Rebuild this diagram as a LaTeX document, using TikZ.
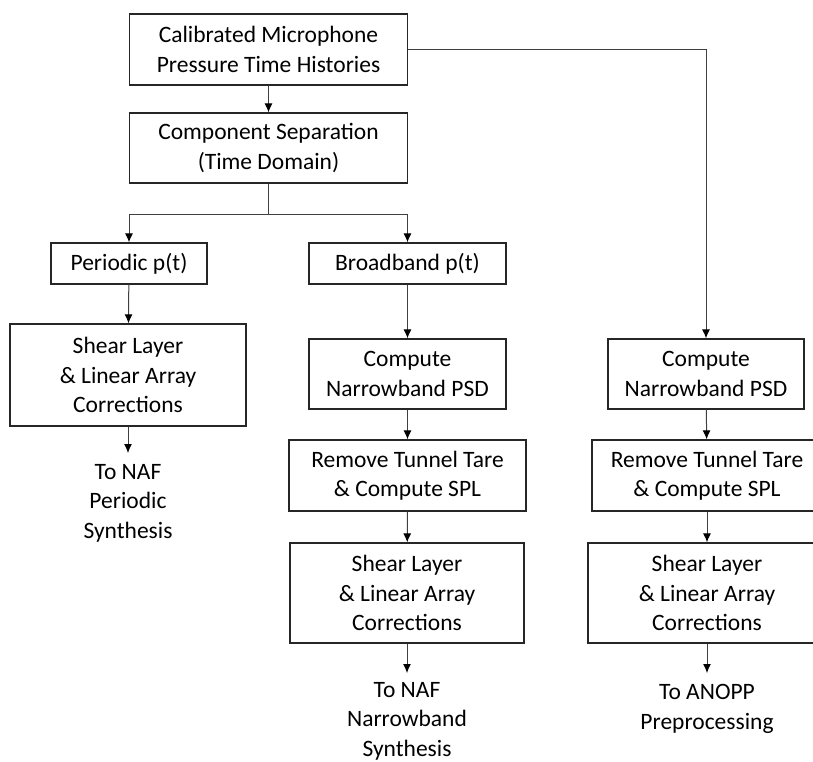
\documentclass[tikz,border=0pt]{standalone}
\usepackage{fontspec}
\setmainfont{Carlito}
\usetikzlibrary{arrows.meta}
\tikzset{
  baseline = (current bounding box.center),
}
\begin{document}
\begin{tikzpicture}[
    x=1pt,y=-1pt,
    box/.style={draw=black!85,line width=1.3pt,align=center,inner sep=0pt,
      font=\fontsize{23.5}{29.5}\selectfont},
    lab/.style={align=center,inner sep=0pt,font=\fontsize{23.5}{29.5}\selectfont},
    link/.style={draw=black!75,line width=1pt},
    flow/.style={link,-{Latex[length=9pt,width=8pt,color=black]}}
    ]
    \clip (0,0) rectangle (813,762);
    % top of the chain
    \node[box,minimum width=278pt,minimum height=71pt] (cal) at (268.5,49.5) {Calibrated Microphone\\Pressure Time Histories};
    \node[box,minimum width=278pt,minimum height=70pt] (sep) at (268.5,148) {Component Separation\\(Time Domain)};
    \coordinate (split) at (268.5,214);
    % left column
    \node[box,minimum width=156pt,minimum height=41pt] (per) at (129,263.5) {Periodic p(t)};
    \node[box,minimum width=236pt,minimum height=102pt] (shL) at (128,375) {Shear Layer\\\& Linear Array\\Corrections};
    \coordinate (endL) at (128,453);
    \node[lab] (toL) at (128,503) {To NAF\\Periodic\\Synthesis};
    % middle column
    \node[box,minimum width=197pt,minimum height=41pt] (bb) at (407.5,263.5) {Broadband p(t)};
    \node[box,minimum width=197pt,minimum height=70pt] (psdM) at (407.5,374) {Compute\\Narrowband PSD};
    \node[box,minimum width=237pt,minimum height=71pt] (tareM) at (407.5,475.5) {Remove Tunnel Tare\\\& Compute SPL};
    \node[box,minimum width=234pt,minimum height=100pt] (shM) at (407,593) {Shear Layer\\\& Linear Array\\Corrections};
    \coordinate (endM) at (407,673);
    \node[lab] (toM) at (407,721) {To NAF\\Narrowband\\Synthesis};
    % right column
    \node[box,minimum width=196pt,minimum height=70pt] (psdR) at (706,374) {Compute\\Narrowband PSD};
    \node[box,minimum width=230pt,minimum height=71pt] (tareR) at (707,475.5) {Remove Tunnel Tare\\\& Compute SPL};
    \node[box,minimum width=238pt,minimum height=100pt] (shR) at (707,593) {Shear Layer\\\& Linear Array\\Corrections};
    \coordinate (endR) at (707,673);
    \node[lab] (toR) at (707,709) {To ANOPP\\Preprocessing};
    % connectors
    \draw[flow] (cal) -- (sep);
    \draw[link] (sep) -- (split);
    \draw[flow] (split) -| (per);
    \draw[flow] (split) -| (bb);
    \draw[flow] (cal) -| (psdR);
    \draw[flow] (per) -- (shL);
    \draw[flow] (shL) -- (endL);
    \draw[flow] (bb) -- (psdM);
    \draw[flow] (psdM) -- (tareM);
    \draw[flow] (tareM) -- (shM);
    \draw[flow] (shM) -- (endM);
    \draw[flow] (psdR) -- (tareR);
    \draw[flow] (tareR) -- (shR);
    \draw[flow] (shR) -- (endR);
  \end{tikzpicture}
\end{document}
